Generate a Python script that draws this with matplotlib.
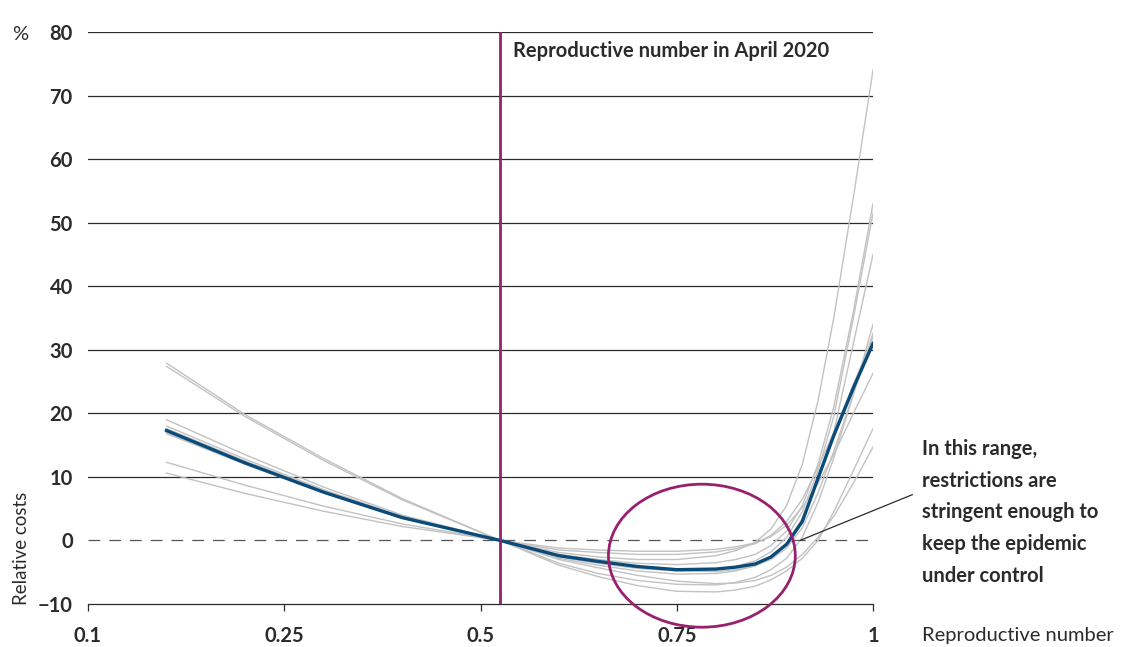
import matplotlib
matplotlib.use("Agg")
import matplotlib.pyplot as plt
from matplotlib.patches import Ellipse

plt.rcParams['font.family'] = ['Lato', 'DejaVu Sans']

# reproductive number grid and relative costs (%) of each scenario
r_values = [0.1, 0.2, 0.3, 0.4, 0.525, 0.6, 0.65, 0.7, 0.75, 0.8, 0.825, 0.85,
            0.87, 0.89, 0.91, 0.93, 0.95, 0.975, 1.0]

central = [17.3, 12.2, 7.6, 3.6, 0, -2.4, -3.3, -4.1, -4.6, -4.5, -4.2, -3.7,
           -2.6, -0.6, 3.0, 9.8, 16.5, 24, 31]

scenarios = [
    [27.9, 19.8, 12.9, 6.6, 0, -3.6, -5.2, -6.3, -6.9, -7.0, -6.6, -5.8, -4.6, -2.8, 0.5, 6, 13, 23, 34],
    [27.4, 19.5, 12.6, 6.4, 0, -3.9, -5.7, -7.1, -8.0, -8.1, -7.8, -7.2, -6.2, -4.8, -2.8, 0, 4.5, 11, 17.6],
    [19.0, 13.5, 8.4, 4.0, 0, -1.9, -2.6, -3.0, -3.0, -2.4, -1.6, -0.3, 1.8, 5.5, 12, 22, 35, 54, 74],
    [18.0, 12.8, 8.0, 3.8, 0, -2.2, -3.0, -3.6, -3.8, -3.5, -3.0, -2.2, -0.8, 1.5, 5.5, 12, 21, 36, 53],
    [17.6, 12.5, 7.8, 3.7, 0, -2.6, -3.6, -4.4, -4.8, -4.6, -4.1, -3.2, -1.8, 0.5, 4.5, 11, 19.5, 35, 51.5],
    [17.3, 12.3, 7.7, 3.6, 0, -2.8, -3.9, -4.8, -5.3, -5.2, -4.8, -4.0, -2.6, -0.4, 3.5, 9.5, 17, 31, 45],
    [16.8, 12.0, 7.5, 3.5, 0, -2.5, -3.5, -4.3, -4.8, -4.9, -4.6, -4.0, -3.0, -1.2, 2.0, 7.5, 14, 23, 32.6],
    [12.3, 8.7, 5.4, 2.6, 0, -1.5, -1.9, -2.2, -2.2, -1.8, -1.3, -0.5, 0.8, 3.0, 6.5, 11.5, 17, 24.5, 32],
    [10.6, 7.4, 4.6, 2.2, 0, -1.2, -1.5, -1.7, -1.7, -1.4, -1.0, -0.4, 0.6, 2.4, 5.2, 9.0, 13.5, 20, 26.3],
    [17.0, 12.1, 7.6, 3.6, 0, -3.0, -4.3, -5.5, -6.4, -6.8, -6.7, -6.3, -5.5, -4.2, -2.2, 0.5, 3.8, 9, 14.7],
]

r_april = 0.525

x_ticks = [0, 0.25, 0.5, 0.75, 1]
x_ticklabels = ['0.1', '0.25', '0.5', '0.75', '1']
y_ticks = [-10, 0, 10, 20, 30, 40, 50, 60, 70, 80]
y_ticklabels = ['\u221210', '0', '10', '20', '30', '40', '50', '60', '70', '80']

purple = '#98206e'
navy = '#0b4b7a'
dark = '#2b2b2b'
fs = 14.5

fig = plt.figure(figsize=(11.28, 6.47), dpi=100)
ax = fig.add_axes([88 / 1128, 43 / 647, 785 / 1128, 572 / 647])

ax.set_xlim(0, 1)
ax.set_ylim(-10, 80)

# horizontal grid, dashed zero line
for y in y_ticks[2:]:
    ax.axhline(y, color=dark, lw=0.9, zorder=1)
ax.axhline(0, color='#555555', lw=0.9, dashes=(9.4, 7.2), zorder=1)

for s in scenarios:
    ax.plot(r_values, s, color='#c2c2c2', lw=1.0, zorder=2)
ax.plot(r_values, central, color=navy, lw=2.4, zorder=3)

ax.axvline(r_april, color=purple, lw=2.0, zorder=4)
ax.text(0.541, 77.0, 'Reproductive number in April 2020', fontsize=fs,
        fontweight='bold', color=dark, va='center', ha='left')

ell = Ellipse((0.782, -2.4), 0.238, 22.5, fill=False, edgecolor=purple,
              lw=2.0, clip_on=False, zorder=5)
ax.add_patch(ell)

# leader line to the note
ax.plot([0.907, 1.050], [0.0, 7.2], color=dark, lw=0.9, clip_on=False, zorder=5)
ax.text(1.062, 16.0,
        'In this range,\nrestrictions are\nstringent enough to\nkeep the epidemic\nunder control',
        fontsize=fs, fontweight='bold', color=dark, va='top', ha='left',
        linespacing=1.74)

for side in ['top', 'right', 'left']:
    ax.spines[side].set_visible(False)
ax.spines['bottom'].set_color(dark)
ax.spines['bottom'].set_linewidth(0.9)

ax.set_xticks(x_ticks)
ax.set_xticklabels(x_ticklabels, fontsize=fs, fontweight='bold', color=dark)
ax.tick_params(axis='x', direction='out', length=5, width=0.9, color=dark, pad=11)
ax.set_yticks(y_ticks)
ax.set_yticklabels(y_ticklabels, fontsize=fs, fontweight='bold', color=dark)
ax.tick_params(axis='y', length=0, pad=11)

fig.text(20 / 1128, 1 - 34 / 647, '%', fontsize=fs, color=dark, ha='center', va='center')
fig.text(22 / 1128, 1 - 548 / 647, 'Relative costs', fontsize=13.5, color=dark,
         rotation=90, ha='center', va='center')
fig.text(922 / 1128, 1 - 636 / 647, 'Reproductive number', fontsize=fs,
         color=dark, ha='left', va='center')

fig.savefig('out.png', dpi=100)
